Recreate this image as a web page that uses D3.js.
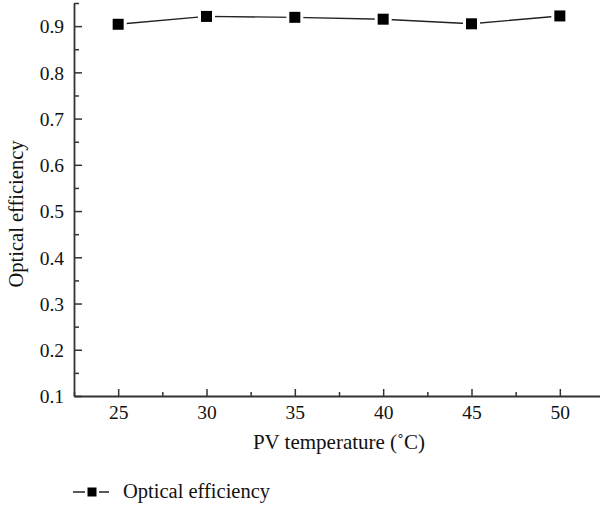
<!DOCTYPE html>
<html>
<head>
<meta charset="utf-8">
<script src="https://cdn.jsdelivr.net/npm/d3@7"></script>
</head>
<body style="margin:0;background:#fff">
<svg id="chart" width="600" height="507" font-family="Liberation Serif"></svg>
<script>
const temps = [25, 30, 35, 40, 45, 50]
const efficiency = [0.904, 0.921, 0.919, 0.915, 0.905, 0.922]
const yTicks = [0.1, 0.2, 0.3, 0.4, 0.5, 0.6, 0.7, 0.8, 0.9]
const xTicks = [25, 30, 35, 40, 45, 50]
const seriesName = "Optical efficiency"

const serif = "Liberation Serif"
const svg = d3.select("#chart")
const padL = 74, padR = 604, padT = 3, padB = 396

const x = d3.scaleLinear().domain([22.5, 52.5]).range([padL, padR])
const y = d3.scaleLinear().domain([0.1, 0.95]).range([padB, padT])

const axisColor = "#333"

// x axis (ticks point inward)
const gx = svg.append("g").attr("transform", `translate(0,${padB})`)
gx.call(d3.axisTop(x).tickValues(d3.range(22.5, 52.6, 2.5).filter(v => v % 5 !== 0)).tickSize(4).tickFormat(""))
gx.selectAll(".tick line").attr("stroke", axisColor).attr("stroke-width", 1.5)
gx.select(".domain").remove()
const gxm = svg.append("g").attr("transform", `translate(0,${padB})`)
gxm.call(d3.axisTop(x).tickValues(xTicks).tickSize(7).tickSizeOuter(0))
gxm.attr("font-family", serif).attr("font-size", 19.5)
gxm.selectAll(".tick line").attr("stroke", axisColor).attr("stroke-width", 1.5)
gxm.select(".domain").attr("stroke", axisColor).attr("stroke-width", 1.8)
gxm.selectAll(".tick text").attr("y", 23).attr("dy", 0)
  .attr("font-family", serif).attr("font-size", 19.5).attr("fill", "#111")

// y axis (ticks point inward)
const gy = svg.append("g").attr("transform", `translate(${padL},0)`)
gy.call(d3.axisRight(y).tickValues(d3.range(0.15, 0.96, 0.1)).tickSize(5).tickFormat(""))
gy.selectAll(".tick line").attr("stroke", axisColor).attr("stroke-width", 1.5)
gy.select(".domain").remove()
const gym = svg.append("g").attr("transform", `translate(${padL},0)`)
gym.call(d3.axisRight(y).tickValues(yTicks).tickSize(8).tickSizeOuter(0).tickFormat(d3.format(".1f")))
gym.attr("font-family", serif).attr("font-size", 19.5)
gym.selectAll(".tick line").attr("stroke", axisColor).attr("stroke-width", 1.5)
gym.select(".domain").attr("stroke", axisColor).attr("stroke-width", 1.8)
gym.selectAll(".tick text").attr("x", -10).attr("dy", "0.35em").attr("text-anchor", "end")
  .attr("font-family", serif).attr("font-size", 19.5).attr("fill", "#111")

// series line
const pts = temps.map((t, i) => [t, efficiency[i]])
svg.append("path")
  .datum(pts)
  .attr("fill", "none")
  .attr("stroke", "#222")
  .attr("stroke-width", 1.4)
  .attr("d", d3.line().x(d => x(d[0])).y(d => y(d[1])))

// markers with a white gap around them
const ms = 11
svg.selectAll("rect.gap").data(pts).enter().append("rect")
  .attr("x", d => x(d[0]) - ms / 2 - 3).attr("y", d => y(d[1]) - ms / 2 - 3)
  .attr("width", ms + 6).attr("height", ms + 6).attr("fill", "#fff")
svg.selectAll("rect.mk").data(pts).enter().append("rect")
  .attr("x", d => x(d[0]) - ms / 2).attr("y", d => y(d[1]) - ms / 2)
  .attr("width", ms).attr("height", ms).attr("fill", "#000")

// axis titles
svg.append("text")
  .attr("x", 339).attr("y", 449)
  .attr("text-anchor", "middle")
  .attr("font-family", serif).attr("font-size", 21).attr("fill", "#111")
  .text("PV temperature (˚C)")

svg.append("text")
  .attr("transform", "translate(23,214) rotate(-90)")
  .attr("text-anchor", "middle")
  .attr("font-family", serif).attr("font-size", 20.5).attr("fill", "#111")
  .text("Optical efficiency")

// legend
const lg = svg.append("g").attr("transform", "translate(73,492)")
lg.append("line").attr("x1", 0).attr("x2", 36).attr("stroke", "#222").attr("stroke-width", 1.4)
lg.append("rect").attr("x", 19 - 7).attr("y", -7).attr("width", 14).attr("height", 14).attr("fill", "#fff")
lg.append("rect").attr("x", 19 - 4.5).attr("y", -4.5).attr("width", 9).attr("height", 9).attr("fill", "#000")
lg.append("text").attr("x", 50).attr("y", 6)
  .attr("font-family", serif).attr("font-size", 20.5).attr("fill", "#111")
  .text(seriesName)
</script>
</body>
</html>
